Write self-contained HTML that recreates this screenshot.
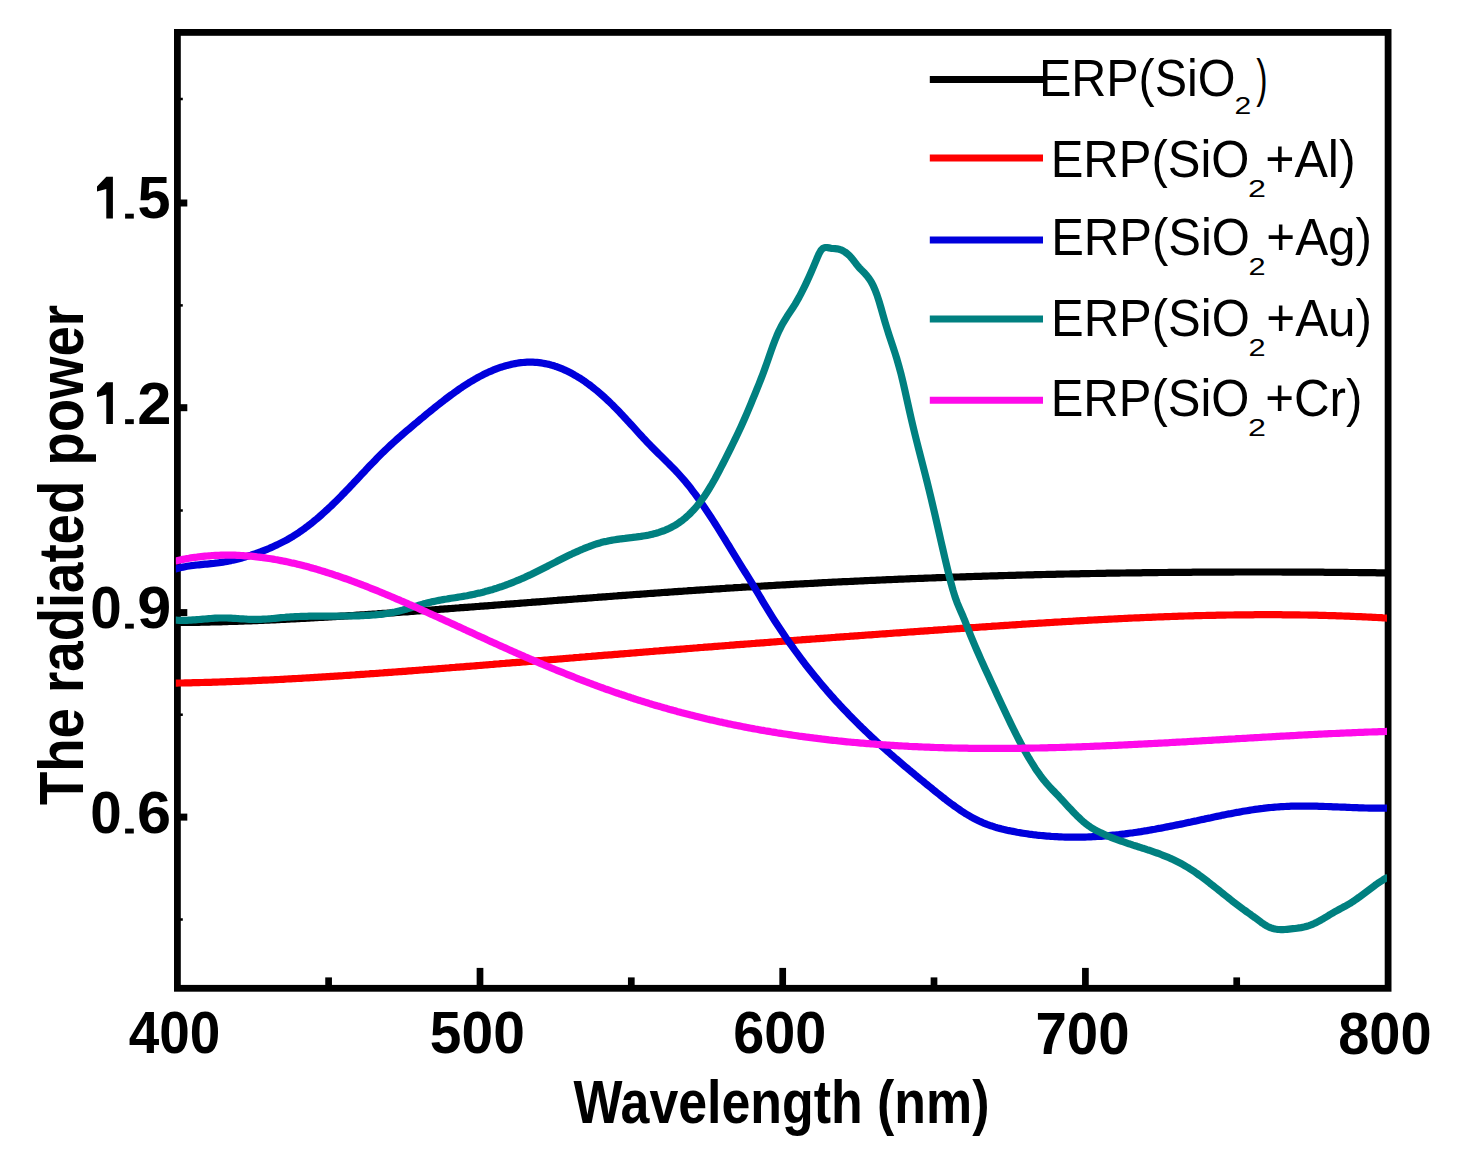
<!DOCTYPE html>
<html><head><meta charset="utf-8"><title>Radiated power vs wavelength</title>
<style>html,body{margin:0;padding:0;background:#fff;}svg{display:block;}</style></head>
<body><svg width="1457" height="1161" viewBox="0 0 1457 1161">
<rect width="1457" height="1161" fill="#fff"/>
<rect x="177.40" y="32.40" width="1210.70" height="955.90" fill="none" stroke="#000" stroke-width="6.8"/>
<rect x="476.65" y="967.90" width="6.7" height="18" fill="#000"/>
<rect x="779.35" y="967.90" width="6.7" height="18" fill="#000"/>
<rect x="1082.05" y="967.90" width="6.7" height="18" fill="#000"/>
<rect x="325.25" y="977.40" width="6.7" height="8.5" fill="#000"/>
<rect x="627.95" y="977.40" width="6.7" height="8.5" fill="#000"/>
<rect x="930.65" y="977.40" width="6.7" height="8.5" fill="#000"/>
<rect x="1233.35" y="977.40" width="6.7" height="8.5" fill="#000"/>
<rect x="179.80" y="199.50" width="7.5" height="7.0" fill="#000"/>
<rect x="179.80" y="404.20" width="7.5" height="7.0" fill="#000"/>
<rect x="179.80" y="609.10" width="7.5" height="7.0" fill="#000"/>
<rect x="179.80" y="813.60" width="7.5" height="7.0" fill="#000"/>
<rect x="179.80" y="97.75" width="3.0" height="2.5" fill="#000"/>
<rect x="179.80" y="304.15" width="3.0" height="2.5" fill="#000"/>
<rect x="179.80" y="509.25" width="3.0" height="2.5" fill="#000"/>
<rect x="179.80" y="713.45" width="3.0" height="2.5" fill="#000"/>
<rect x="179.80" y="918.25" width="3.0" height="2.5" fill="#000"/>
<defs><clipPath id="pc"><rect x="175.8" y="36" width="1211.2" height="949"/></clipPath></defs>
<g clip-path="url(#pc)" fill="none" stroke-width="7.2" stroke-linejoin="round" stroke-linecap="butt">
<path d="M174.8,622.6 L177.0,622.6 L179.0,622.5 L181.0,622.5 L183.0,622.5 L185.0,622.5 L187.0,622.5 L189.0,622.4 L191.0,622.4 L193.0,622.4 L195.0,622.3 L197.0,622.3 L199.0,622.3 L201.0,622.2 L203.0,622.2 L205.0,622.1 L207.0,622.1 L209.0,622.1 L211.0,622.0 L213.0,622.0 L215.0,621.9 L217.0,621.9 L219.0,621.8 L221.0,621.8 L223.0,621.7 L225.0,621.6 L227.0,621.6 L229.0,621.5 L231.0,621.5 L233.0,621.4 L235.0,621.3 L237.0,621.3 L239.0,621.2 L241.0,621.1 L243.0,621.1 L245.0,621.0 L247.0,620.9 L249.0,620.9 L251.0,620.8 L253.0,620.7 L255.0,620.6 L257.0,620.6 L259.0,620.5 L261.0,620.4 L263.0,620.3 L265.0,620.2 L267.0,620.1 L269.0,620.1 L271.0,620.0 L273.0,619.9 L275.0,619.8 L277.0,619.7 L279.0,619.6 L281.0,619.5 L283.0,619.4 L285.0,619.3 L287.0,619.2 L289.0,619.1 L291.0,619.0 L293.0,618.9 L295.0,618.8 L297.0,618.7 L299.0,618.6 L301.0,618.5 L303.0,618.4 L305.0,618.3 L307.0,618.2 L309.0,618.1 L311.0,618.0 L313.0,617.9 L315.0,617.7 L317.0,617.6 L319.0,617.5 L321.0,617.4 L323.0,617.3 L325.0,617.2 L327.0,617.1 L329.0,616.9 L331.0,616.8 L333.0,616.7 L335.0,616.6 L337.0,616.5 L339.0,616.3 L341.0,616.2 L343.0,616.1 L345.0,616.0 L347.0,615.8 L349.0,615.7 L351.0,615.6 L353.0,615.5 L355.0,615.3 L357.0,615.2 L359.0,615.1 L361.0,614.9 L363.0,614.8 L365.0,614.7 L367.0,614.5 L369.0,614.4 L371.0,614.3 L373.0,614.1 L375.0,614.0 L377.0,613.9 L379.0,613.7 L381.0,613.6 L383.0,613.4 L385.0,613.3 L387.0,613.2 L389.0,613.0 L391.0,612.9 L393.0,612.8 L395.0,612.6 L397.0,612.5 L399.0,612.3 L401.0,612.2 L403.0,612.0 L405.0,611.9 L407.0,611.8 L409.0,611.6 L411.0,611.5 L413.0,611.3 L415.0,611.2 L417.0,611.0 L419.0,610.9 L421.0,610.7 L423.0,610.6 L425.0,610.4 L427.0,610.3 L429.0,610.1 L431.0,610.0 L433.0,609.8 L435.0,609.7 L437.0,609.5 L439.0,609.4 L441.0,609.2 L443.0,609.1 L445.0,608.9 L447.0,608.8 L449.0,608.6 L451.0,608.5 L453.0,608.3 L455.0,608.2 L457.0,608.0 L459.0,607.9 L461.0,607.7 L463.0,607.6 L465.0,607.4 L467.0,607.3 L469.0,607.1 L471.0,607.0 L473.0,606.8 L475.0,606.7 L477.0,606.5 L479.0,606.4 L481.0,606.2 L483.0,606.1 L485.0,605.9 L487.0,605.8 L489.0,605.6 L491.0,605.5 L493.0,605.3 L495.0,605.1 L497.0,605.0 L499.0,604.8 L501.0,604.7 L503.0,604.5 L505.0,604.4 L507.0,604.2 L509.0,604.1 L511.0,603.9 L513.0,603.8 L515.0,603.6 L517.0,603.5 L519.0,603.3 L521.0,603.1 L523.0,603.0 L525.0,602.8 L527.0,602.7 L529.0,602.5 L531.0,602.4 L533.0,602.2 L535.0,602.1 L537.0,601.9 L539.0,601.8 L541.0,601.6 L543.0,601.5 L545.0,601.3 L547.0,601.2 L549.0,601.0 L551.0,600.8 L553.0,600.7 L555.0,600.5 L557.0,600.4 L559.0,600.2 L561.0,600.1 L563.0,599.9 L565.0,599.8 L567.0,599.6 L569.0,599.5 L571.0,599.3 L573.0,599.2 L575.0,599.0 L577.0,598.9 L579.0,598.7 L581.0,598.6 L583.0,598.4 L585.0,598.3 L587.0,598.1 L589.0,598.0 L591.0,597.8 L593.0,597.7 L595.0,597.5 L597.0,597.4 L599.0,597.2 L601.0,597.1 L603.0,596.9 L605.0,596.8 L607.0,596.6 L609.0,596.5 L611.0,596.3 L613.0,596.2 L615.0,596.0 L617.0,595.9 L619.0,595.7 L621.0,595.6 L623.0,595.4 L625.0,595.3 L627.0,595.1 L629.0,595.0 L631.0,594.8 L633.0,594.7 L635.0,594.5 L637.0,594.4 L639.0,594.3 L641.0,594.1 L643.0,594.0 L645.0,593.8 L647.0,593.7 L649.0,593.5 L651.0,593.4 L653.0,593.3 L655.0,593.1 L657.0,593.0 L659.0,592.8 L661.0,592.7 L663.0,592.5 L665.0,592.4 L667.0,592.3 L669.0,592.1 L671.0,592.0 L673.0,591.8 L675.0,591.7 L677.0,591.6 L679.0,591.4 L681.0,591.3 L683.0,591.2 L685.0,591.0 L687.0,590.9 L689.0,590.7 L691.0,590.6 L693.0,590.5 L695.0,590.3 L697.0,590.2 L699.0,590.1 L701.0,589.9 L703.0,589.8 L705.0,589.7 L707.0,589.5 L709.0,589.4 L711.0,589.3 L713.0,589.1 L715.0,589.0 L717.0,588.9 L719.0,588.8 L721.0,588.6 L723.0,588.5 L725.0,588.4 L727.0,588.2 L729.0,588.1 L731.0,588.0 L733.0,587.9 L735.0,587.7 L737.0,587.6 L739.0,587.5 L741.0,587.4 L743.0,587.2 L745.0,587.1 L747.0,587.0 L749.0,586.9 L751.0,586.8 L753.0,586.6 L755.0,586.5 L757.0,586.4 L759.0,586.3 L761.0,586.2 L763.0,586.0 L765.0,585.9 L767.0,585.8 L769.0,585.7 L771.0,585.6 L773.0,585.5 L775.0,585.3 L777.0,585.2 L779.0,585.1 L781.0,585.0 L783.0,584.9 L785.0,584.8 L787.0,584.7 L789.0,584.6 L791.0,584.4 L793.0,584.3 L795.0,584.2 L797.0,584.1 L799.0,584.0 L801.0,583.9 L803.0,583.8 L805.0,583.7 L807.0,583.6 L809.0,583.5 L811.0,583.4 L813.0,583.3 L815.0,583.2 L817.0,583.1 L819.0,582.9 L821.0,582.8 L823.0,582.7 L825.0,582.6 L827.0,582.5 L829.0,582.4 L831.0,582.3 L833.0,582.2 L835.0,582.1 L837.0,582.0 L839.0,581.9 L841.0,581.8 L843.0,581.7 L845.0,581.7 L847.0,581.6 L849.0,581.5 L851.0,581.4 L853.0,581.3 L855.0,581.2 L857.0,581.1 L859.0,581.0 L861.0,580.9 L863.0,580.8 L865.0,580.7 L867.0,580.6 L869.0,580.5 L871.0,580.4 L873.0,580.4 L875.0,580.3 L877.0,580.2 L879.0,580.1 L881.0,580.0 L883.0,579.9 L885.0,579.8 L887.0,579.7 L889.0,579.7 L891.0,579.6 L893.0,579.5 L895.0,579.4 L897.0,579.3 L899.0,579.2 L901.0,579.2 L903.0,579.1 L905.0,579.0 L907.0,578.9 L909.0,578.8 L911.0,578.7 L913.0,578.7 L915.0,578.6 L917.0,578.5 L919.0,578.4 L921.0,578.4 L923.0,578.3 L925.0,578.2 L927.0,578.1 L929.0,578.0 L931.0,578.0 L933.0,577.9 L935.0,577.8 L937.0,577.7 L939.0,577.7 L941.0,577.6 L943.0,577.5 L945.0,577.5 L947.0,577.4 L949.0,577.3 L951.0,577.2 L953.0,577.2 L955.0,577.1 L957.0,577.0 L959.0,577.0 L961.0,576.9 L963.0,576.8 L965.0,576.8 L967.0,576.7 L969.0,576.6 L971.0,576.6 L973.0,576.5 L975.0,576.4 L977.0,576.4 L979.0,576.3 L981.0,576.3 L983.0,576.2 L985.0,576.1 L987.0,576.1 L989.0,576.0 L991.0,575.9 L993.0,575.9 L995.0,575.8 L997.0,575.8 L999.0,575.7 L1001.0,575.7 L1003.0,575.6 L1005.0,575.5 L1007.0,575.5 L1009.0,575.4 L1011.0,575.4 L1013.0,575.3 L1015.0,575.3 L1017.0,575.2 L1019.0,575.2 L1021.0,575.1 L1023.0,575.0 L1025.0,575.0 L1027.0,574.9 L1029.0,574.9 L1031.0,574.8 L1033.0,574.8 L1035.0,574.7 L1037.0,574.7 L1039.0,574.6 L1041.0,574.6 L1043.0,574.5 L1045.0,574.5 L1047.0,574.4 L1049.0,574.4 L1051.0,574.4 L1053.0,574.3 L1055.0,574.3 L1057.0,574.2 L1059.0,574.2 L1061.0,574.1 L1063.0,574.1 L1065.0,574.0 L1067.0,574.0 L1069.0,574.0 L1071.0,573.9 L1073.0,573.9 L1075.0,573.8 L1077.0,573.8 L1079.0,573.8 L1081.0,573.7 L1083.0,573.7 L1085.0,573.6 L1087.0,573.6 L1089.0,573.6 L1091.0,573.5 L1093.0,573.5 L1095.0,573.5 L1097.0,573.4 L1099.0,573.4 L1101.0,573.3 L1103.0,573.3 L1105.0,573.3 L1107.0,573.2 L1109.0,573.2 L1111.0,573.2 L1113.0,573.2 L1115.0,573.1 L1117.0,573.1 L1119.0,573.1 L1121.0,573.0 L1123.0,573.0 L1125.0,573.0 L1127.0,572.9 L1129.0,572.9 L1131.0,572.9 L1133.0,572.9 L1135.0,572.8 L1137.0,572.8 L1139.0,572.8 L1141.0,572.8 L1143.0,572.7 L1145.0,572.7 L1147.0,572.7 L1149.0,572.7 L1151.0,572.6 L1153.0,572.6 L1155.0,572.6 L1157.0,572.6 L1159.0,572.5 L1161.0,572.5 L1163.0,572.5 L1165.0,572.5 L1167.0,572.5 L1169.0,572.4 L1171.0,572.4 L1173.0,572.4 L1175.0,572.4 L1177.0,572.4 L1179.0,572.3 L1181.0,572.3 L1183.0,572.3 L1185.0,572.3 L1187.0,572.3 L1189.0,572.3 L1191.0,572.3 L1193.0,572.2 L1195.0,572.2 L1197.0,572.2 L1199.0,572.2 L1201.0,572.2 L1203.0,572.2 L1205.0,572.2 L1207.0,572.2 L1209.0,572.1 L1211.0,572.1 L1213.0,572.1 L1215.0,572.1 L1217.0,572.1 L1219.0,572.1 L1221.0,572.1 L1223.0,572.1 L1225.0,572.1 L1227.0,572.1 L1229.0,572.1 L1231.0,572.1 L1233.0,572.1 L1235.0,572.0 L1237.0,572.0 L1239.0,572.0 L1241.0,572.0 L1243.0,572.0 L1245.0,572.0 L1247.0,572.0 L1249.0,572.0 L1251.0,572.0 L1253.0,572.0 L1255.0,572.0 L1257.0,572.0 L1259.0,572.0 L1261.0,572.0 L1263.0,572.0 L1265.0,572.0 L1267.0,572.0 L1269.0,572.0 L1271.0,572.0 L1273.0,572.0 L1275.0,572.0 L1277.0,572.0 L1279.0,572.0 L1281.0,572.0 L1283.0,572.1 L1285.0,572.1 L1287.0,572.1 L1289.0,572.1 L1291.0,572.1 L1293.0,572.1 L1295.0,572.1 L1297.0,572.1 L1299.0,572.1 L1301.0,572.1 L1303.0,572.1 L1305.0,572.1 L1307.0,572.1 L1309.0,572.2 L1311.0,572.2 L1313.0,572.2 L1315.0,572.2 L1317.0,572.2 L1319.0,572.2 L1321.0,572.2 L1323.0,572.2 L1325.0,572.3 L1327.0,572.3 L1329.0,572.3 L1331.0,572.3 L1333.0,572.3 L1335.0,572.3 L1337.0,572.4 L1339.0,572.4 L1341.0,572.4 L1343.0,572.4 L1345.0,572.4 L1347.0,572.4 L1349.0,572.5 L1351.0,572.5 L1353.0,572.5 L1355.0,572.5 L1357.0,572.5 L1359.0,572.6 L1361.0,572.6 L1363.0,572.6 L1365.0,572.6 L1367.0,572.6 L1369.0,572.7 L1371.0,572.7 L1373.0,572.7 L1375.0,572.7 L1377.0,572.8 L1379.0,572.8 L1381.0,572.8 L1383.0,572.8 L1385.0,572.9 L1387.0,572.9 L1388.0,572.9" stroke="#000000"/>
<path d="M174.8,683.1 L177.0,683.1 L179.0,683.0 L181.0,683.0 L183.0,683.0 L185.0,682.9 L187.0,682.9 L189.0,682.8 L191.0,682.8 L193.0,682.7 L195.0,682.7 L197.0,682.6 L199.0,682.6 L201.0,682.5 L203.0,682.5 L205.0,682.4 L207.0,682.4 L209.0,682.3 L211.0,682.3 L213.0,682.2 L215.0,682.1 L217.0,682.1 L219.0,682.0 L221.0,681.9 L223.0,681.9 L225.0,681.8 L227.0,681.7 L229.0,681.7 L231.0,681.6 L233.0,681.5 L235.0,681.4 L237.0,681.4 L239.0,681.3 L241.0,681.2 L243.0,681.1 L245.0,681.0 L247.0,681.0 L249.0,680.9 L251.0,680.8 L253.0,680.7 L255.0,680.6 L257.0,680.5 L259.0,680.4 L261.0,680.3 L263.0,680.2 L265.0,680.2 L267.0,680.1 L269.0,680.0 L271.0,679.9 L273.0,679.8 L275.0,679.7 L277.0,679.6 L279.0,679.5 L281.0,679.4 L283.0,679.3 L285.0,679.1 L287.0,679.0 L289.0,678.9 L291.0,678.8 L293.0,678.7 L295.0,678.6 L297.0,678.5 L299.0,678.4 L301.0,678.3 L303.0,678.1 L305.0,678.0 L307.0,677.9 L309.0,677.8 L311.0,677.7 L313.0,677.6 L315.0,677.4 L317.0,677.3 L319.0,677.2 L321.0,677.1 L323.0,676.9 L325.0,676.8 L327.0,676.7 L329.0,676.6 L331.0,676.4 L333.0,676.3 L335.0,676.2 L337.0,676.1 L339.0,675.9 L341.0,675.8 L343.0,675.7 L345.0,675.5 L347.0,675.4 L349.0,675.3 L351.0,675.1 L353.0,675.0 L355.0,674.9 L357.0,674.7 L359.0,674.6 L361.0,674.4 L363.0,674.3 L365.0,674.2 L367.0,674.0 L369.0,673.9 L371.0,673.7 L373.0,673.6 L375.0,673.5 L377.0,673.3 L379.0,673.2 L381.0,673.0 L383.0,672.9 L385.0,672.7 L387.0,672.6 L389.0,672.4 L391.0,672.3 L393.0,672.1 L395.0,672.0 L397.0,671.8 L399.0,671.7 L401.0,671.6 L403.0,671.4 L405.0,671.3 L407.0,671.1 L409.0,670.9 L411.0,670.8 L413.0,670.6 L415.0,670.5 L417.0,670.3 L419.0,670.2 L421.0,670.0 L423.0,669.9 L425.0,669.7 L427.0,669.6 L429.0,669.4 L431.0,669.3 L433.0,669.1 L435.0,669.0 L437.0,668.8 L439.0,668.6 L441.0,668.5 L443.0,668.3 L445.0,668.2 L447.0,668.0 L449.0,667.9 L451.0,667.7 L453.0,667.5 L455.0,667.4 L457.0,667.2 L459.0,667.1 L461.0,666.9 L463.0,666.8 L465.0,666.6 L467.0,666.4 L469.0,666.3 L471.0,666.1 L473.0,666.0 L475.0,665.8 L477.0,665.6 L479.0,665.5 L481.0,665.3 L483.0,665.2 L485.0,665.0 L487.0,664.8 L489.0,664.7 L491.0,664.5 L493.0,664.4 L495.0,664.2 L497.0,664.0 L499.0,663.9 L501.0,663.7 L503.0,663.5 L505.0,663.4 L507.0,663.2 L509.0,663.1 L511.0,662.9 L513.0,662.7 L515.0,662.6 L517.0,662.4 L519.0,662.3 L521.0,662.1 L523.0,661.9 L525.0,661.8 L527.0,661.6 L529.0,661.4 L531.0,661.3 L533.0,661.1 L535.0,661.0 L537.0,660.8 L539.0,660.6 L541.0,660.5 L543.0,660.3 L545.0,660.1 L547.0,660.0 L549.0,659.8 L551.0,659.6 L553.0,659.5 L555.0,659.3 L557.0,659.2 L559.0,659.0 L561.0,658.8 L563.0,658.7 L565.0,658.5 L567.0,658.3 L569.0,658.2 L571.0,658.0 L573.0,657.9 L575.0,657.7 L577.0,657.5 L579.0,657.4 L581.0,657.2 L583.0,657.0 L585.0,656.9 L587.0,656.7 L589.0,656.5 L591.0,656.4 L593.0,656.2 L595.0,656.1 L597.0,655.9 L599.0,655.7 L601.0,655.6 L603.0,655.4 L605.0,655.2 L607.0,655.1 L609.0,654.9 L611.0,654.8 L613.0,654.6 L615.0,654.4 L617.0,654.3 L619.0,654.1 L621.0,653.9 L623.0,653.8 L625.0,653.6 L627.0,653.5 L629.0,653.3 L631.0,653.1 L633.0,653.0 L635.0,652.8 L637.0,652.6 L639.0,652.5 L641.0,652.3 L643.0,652.2 L645.0,652.0 L647.0,651.8 L649.0,651.7 L651.0,651.5 L653.0,651.4 L655.0,651.2 L657.0,651.0 L659.0,650.9 L661.0,650.7 L663.0,650.6 L665.0,650.4 L667.0,650.2 L669.0,650.1 L671.0,649.9 L673.0,649.8 L675.0,649.6 L677.0,649.4 L679.0,649.3 L681.0,649.1 L683.0,649.0 L685.0,648.8 L687.0,648.6 L689.0,648.5 L691.0,648.3 L693.0,648.2 L695.0,648.0 L697.0,647.9 L699.0,647.7 L701.0,647.5 L703.0,647.4 L705.0,647.2 L707.0,647.1 L709.0,646.9 L711.0,646.8 L713.0,646.6 L715.0,646.4 L717.0,646.3 L719.0,646.1 L721.0,646.0 L723.0,645.8 L725.0,645.7 L727.0,645.5 L729.0,645.4 L731.0,645.2 L733.0,645.1 L735.0,644.9 L737.0,644.7 L739.0,644.6 L741.0,644.4 L743.0,644.3 L745.0,644.1 L747.0,644.0 L749.0,643.8 L751.0,643.7 L753.0,643.5 L755.0,643.4 L757.0,643.2 L759.0,643.1 L761.0,642.9 L763.0,642.8 L765.0,642.6 L767.0,642.5 L769.0,642.3 L771.0,642.1 L773.0,642.0 L775.0,641.8 L777.0,641.7 L779.0,641.5 L781.0,641.4 L783.0,641.2 L785.0,641.1 L787.0,640.9 L789.0,640.8 L791.0,640.6 L793.0,640.5 L795.0,640.3 L797.0,640.2 L799.0,640.0 L801.0,639.9 L803.0,639.7 L805.0,639.6 L807.0,639.4 L809.0,639.3 L811.0,639.1 L813.0,639.0 L815.0,638.9 L817.0,638.7 L819.0,638.6 L821.0,638.4 L823.0,638.3 L825.0,638.1 L827.0,638.0 L829.0,637.8 L831.0,637.7 L833.0,637.5 L835.0,637.4 L837.0,637.2 L839.0,637.1 L841.0,636.9 L843.0,636.8 L845.0,636.6 L847.0,636.5 L849.0,636.4 L851.0,636.2 L853.0,636.1 L855.0,635.9 L857.0,635.8 L859.0,635.6 L861.0,635.5 L863.0,635.3 L865.0,635.2 L867.0,635.0 L869.0,634.9 L871.0,634.8 L873.0,634.6 L875.0,634.5 L877.0,634.3 L879.0,634.2 L881.0,634.0 L883.0,633.9 L885.0,633.8 L887.0,633.6 L889.0,633.5 L891.0,633.3 L893.0,633.2 L895.0,633.0 L897.0,632.9 L899.0,632.8 L901.0,632.6 L903.0,632.5 L905.0,632.3 L907.0,632.2 L909.0,632.0 L911.0,631.9 L913.0,631.8 L915.0,631.6 L917.0,631.5 L919.0,631.3 L921.0,631.2 L923.0,631.1 L925.0,630.9 L927.0,630.8 L929.0,630.6 L931.0,630.5 L933.0,630.4 L935.0,630.2 L937.0,630.1 L939.0,629.9 L941.0,629.8 L943.0,629.7 L945.0,629.5 L947.0,629.4 L949.0,629.2 L951.0,629.1 L953.0,629.0 L955.0,628.8 L957.0,628.7 L959.0,628.6 L961.0,628.4 L963.0,628.3 L965.0,628.1 L967.0,628.0 L969.0,627.9 L971.0,627.7 L973.0,627.6 L975.0,627.5 L977.0,627.3 L979.0,627.2 L981.0,627.0 L983.0,626.9 L985.0,626.8 L987.0,626.6 L989.0,626.5 L991.0,626.4 L993.0,626.2 L995.0,626.1 L997.0,626.0 L999.0,625.8 L1001.0,625.7 L1003.0,625.6 L1005.0,625.4 L1007.0,625.3 L1009.0,625.2 L1011.0,625.0 L1013.0,624.9 L1015.0,624.8 L1017.0,624.6 L1019.0,624.5 L1021.0,624.4 L1023.0,624.2 L1025.0,624.1 L1027.0,624.0 L1029.0,623.8 L1031.0,623.7 L1033.0,623.6 L1035.0,623.5 L1037.0,623.3 L1039.0,623.2 L1041.0,623.1 L1043.0,623.0 L1045.0,622.8 L1047.0,622.7 L1049.0,622.6 L1051.0,622.5 L1053.0,622.3 L1055.0,622.2 L1057.0,622.1 L1059.0,622.0 L1061.0,621.9 L1063.0,621.7 L1065.0,621.6 L1067.0,621.5 L1069.0,621.4 L1071.0,621.3 L1073.0,621.2 L1075.0,621.0 L1077.0,620.9 L1079.0,620.8 L1081.0,620.7 L1083.0,620.6 L1085.0,620.5 L1087.0,620.4 L1089.0,620.2 L1091.0,620.1 L1093.0,620.0 L1095.0,619.9 L1097.0,619.8 L1099.0,619.7 L1101.0,619.6 L1103.0,619.5 L1105.0,619.4 L1107.0,619.3 L1109.0,619.2 L1111.0,619.1 L1113.0,619.0 L1115.0,618.9 L1117.0,618.8 L1119.0,618.7 L1121.0,618.6 L1123.0,618.5 L1125.0,618.4 L1127.0,618.3 L1129.0,618.2 L1131.0,618.1 L1133.0,618.0 L1135.0,617.9 L1137.0,617.8 L1139.0,617.8 L1141.0,617.7 L1143.0,617.6 L1145.0,617.5 L1147.0,617.4 L1149.0,617.3 L1151.0,617.3 L1153.0,617.2 L1155.0,617.1 L1157.0,617.0 L1159.0,616.9 L1161.0,616.9 L1163.0,616.8 L1165.0,616.7 L1167.0,616.6 L1169.0,616.6 L1171.0,616.5 L1173.0,616.4 L1175.0,616.4 L1177.0,616.3 L1179.0,616.2 L1181.0,616.2 L1183.0,616.1 L1185.0,616.0 L1187.0,616.0 L1189.0,615.9 L1191.0,615.9 L1193.0,615.8 L1195.0,615.7 L1197.0,615.7 L1199.0,615.6 L1201.0,615.6 L1203.0,615.5 L1205.0,615.5 L1207.0,615.4 L1209.0,615.4 L1211.0,615.3 L1213.0,615.3 L1215.0,615.3 L1217.0,615.2 L1219.0,615.2 L1221.0,615.1 L1223.0,615.1 L1225.0,615.1 L1227.0,615.0 L1229.0,615.0 L1231.0,615.0 L1233.0,615.0 L1235.0,614.9 L1237.0,614.9 L1239.0,614.9 L1241.0,614.9 L1243.0,614.8 L1245.0,614.8 L1247.0,614.8 L1249.0,614.8 L1251.0,614.8 L1253.0,614.8 L1255.0,614.7 L1257.0,614.7 L1259.0,614.7 L1261.0,614.7 L1263.0,614.7 L1265.0,614.7 L1267.0,614.7 L1269.0,614.7 L1271.0,614.7 L1273.0,614.7 L1275.0,614.7 L1277.0,614.7 L1279.0,614.7 L1281.0,614.7 L1283.0,614.8 L1285.0,614.8 L1287.0,614.8 L1289.0,614.8 L1291.0,614.8 L1293.0,614.8 L1295.0,614.9 L1297.0,614.9 L1299.0,614.9 L1301.0,615.0 L1303.0,615.0 L1305.0,615.0 L1307.0,615.0 L1309.0,615.1 L1311.0,615.1 L1313.0,615.2 L1315.0,615.2 L1317.0,615.2 L1319.0,615.3 L1321.0,615.3 L1323.0,615.4 L1325.0,615.4 L1327.0,615.5 L1329.0,615.6 L1331.0,615.6 L1333.0,615.7 L1335.0,615.7 L1337.0,615.8 L1339.0,615.9 L1341.0,615.9 L1343.0,616.0 L1345.0,616.1 L1347.0,616.2 L1349.0,616.2 L1351.0,616.3 L1353.0,616.4 L1355.0,616.5 L1357.0,616.6 L1359.0,616.6 L1361.0,616.7 L1363.0,616.8 L1365.0,616.9 L1367.0,617.0 L1369.0,617.1 L1371.0,617.2 L1373.0,617.3 L1375.0,617.4 L1377.0,617.5 L1379.0,617.6 L1381.0,617.7 L1383.0,617.9 L1385.0,618.0 L1387.0,618.1 L1388.0,618.2" stroke="#ff0000"/>
<path d="M174.8,569.2 L177.0,568.6 L179.0,568.0 L181.0,567.5 L183.0,567.1 L185.0,566.7 L187.0,566.3 L189.0,566.0 L191.0,565.7 L193.0,565.5 L195.0,565.2 L197.0,565.0 L199.0,564.8 L201.0,564.6 L203.0,564.4 L205.0,564.2 L207.0,564.1 L209.0,563.9 L211.0,563.7 L213.0,563.5 L215.0,563.2 L217.0,563.0 L219.0,562.7 L221.0,562.4 L223.0,562.1 L225.0,561.8 L227.0,561.4 L229.0,561.0 L231.0,560.6 L233.0,560.1 L235.0,559.7 L237.0,559.2 L239.0,558.7 L241.0,558.2 L243.0,557.6 L245.0,557.0 L247.0,556.4 L249.0,555.8 L251.0,555.2 L253.0,554.5 L255.0,553.8 L257.0,553.1 L259.0,552.4 L261.0,551.7 L263.0,550.9 L265.0,550.1 L267.0,549.3 L269.0,548.5 L271.0,547.6 L273.0,546.7 L275.0,545.8 L277.0,544.9 L279.0,543.9 L281.0,542.9 L283.0,541.9 L285.0,540.9 L287.0,539.8 L289.0,538.6 L291.0,537.5 L293.0,536.3 L295.0,535.0 L297.0,533.7 L299.0,532.4 L301.0,531.0 L303.0,529.6 L305.0,528.2 L307.0,526.7 L309.0,525.1 L311.0,523.6 L313.0,522.0 L315.0,520.3 L317.0,518.7 L319.0,517.0 L321.0,515.2 L323.0,513.4 L325.0,511.6 L327.0,509.8 L329.0,507.9 L331.0,506.1 L333.0,504.1 L335.0,502.2 L337.0,500.2 L339.0,498.2 L341.0,496.2 L343.0,494.1 L345.0,492.1 L347.0,490.0 L349.0,487.9 L351.0,485.8 L353.0,483.7 L355.0,481.5 L357.0,479.4 L359.0,477.3 L361.0,475.1 L363.0,473.0 L365.0,470.9 L367.0,468.7 L369.0,466.6 L371.0,464.5 L373.0,462.5 L375.0,460.4 L377.0,458.3 L379.0,456.3 L381.0,454.3 L383.0,452.3 L385.0,450.4 L387.0,448.5 L389.0,446.6 L391.0,444.7 L393.0,442.9 L395.0,441.1 L397.0,439.3 L399.0,437.5 L401.0,435.8 L403.0,434.0 L405.0,432.3 L407.0,430.6 L409.0,428.9 L411.0,427.2 L413.0,425.5 L415.0,423.8 L417.0,422.2 L419.0,420.5 L421.0,418.8 L423.0,417.2 L425.0,415.5 L427.0,413.8 L429.0,412.2 L431.0,410.6 L433.0,409.0 L435.0,407.4 L437.0,405.8 L439.0,404.2 L441.0,402.6 L443.0,401.1 L445.0,399.5 L447.0,398.0 L449.0,396.5 L451.0,395.0 L453.0,393.6 L455.0,392.1 L457.0,390.7 L459.0,389.3 L461.0,387.9 L463.0,386.6 L465.0,385.3 L467.0,384.0 L469.0,382.7 L471.0,381.5 L473.0,380.3 L475.0,379.2 L477.0,378.0 L479.0,376.9 L481.0,375.9 L483.0,374.8 L485.0,373.8 L487.0,372.9 L489.0,371.9 L491.0,371.1 L493.0,370.2 L495.0,369.4 L497.0,368.6 L499.0,367.9 L501.0,367.2 L503.0,366.6 L505.0,366.0 L507.0,365.4 L509.0,364.9 L511.0,364.4 L513.0,364.0 L515.0,363.6 L517.0,363.2 L519.0,362.9 L521.0,362.7 L523.0,362.5 L525.0,362.3 L527.0,362.2 L529.0,362.2 L531.0,362.2 L533.0,362.2 L535.0,362.3 L537.0,362.4 L539.0,362.6 L541.0,362.9 L543.0,363.2 L545.0,363.6 L547.0,364.0 L549.0,364.4 L551.0,365.0 L553.0,365.5 L555.0,366.2 L557.0,366.8 L559.0,367.6 L561.0,368.4 L563.0,369.2 L565.0,370.1 L567.0,371.0 L569.0,372.0 L571.0,373.0 L573.0,374.1 L575.0,375.3 L577.0,376.4 L579.0,377.7 L581.0,378.9 L583.0,380.3 L585.0,381.6 L587.0,383.1 L589.0,384.5 L591.0,386.0 L593.0,387.6 L595.0,389.2 L597.0,390.8 L599.0,392.5 L601.0,394.2 L603.0,396.0 L605.0,397.8 L607.0,399.7 L609.0,401.5 L611.0,403.5 L613.0,405.4 L615.0,407.5 L617.0,409.5 L619.0,411.6 L621.0,413.7 L623.0,415.8 L625.0,418.0 L627.0,420.2 L629.0,422.3 L631.0,424.5 L633.0,426.7 L635.0,428.9 L637.0,431.1 L639.0,433.3 L641.0,435.5 L643.0,437.7 L645.0,439.8 L647.0,441.9 L649.0,444.0 L651.0,446.1 L653.0,448.1 L655.0,450.1 L657.0,452.1 L659.0,454.1 L661.0,456.0 L663.0,458.0 L665.0,460.0 L667.0,462.0 L669.0,463.9 L671.0,466.0 L673.0,468.0 L675.0,470.1 L677.0,472.2 L679.0,474.4 L681.0,476.6 L683.0,478.9 L685.0,481.2 L687.0,483.6 L689.0,486.1 L691.0,488.6 L693.0,491.3 L695.0,493.9 L697.0,496.7 L699.0,499.5 L701.0,502.3 L703.0,505.2 L705.0,508.2 L707.0,511.2 L709.0,514.2 L711.0,517.3 L713.0,520.4 L715.0,523.5 L717.0,526.7 L719.0,529.9 L721.0,533.1 L723.0,536.3 L725.0,539.5 L727.0,542.8 L729.0,546.0 L731.0,549.3 L733.0,552.6 L735.0,555.8 L737.0,559.1 L739.0,562.3 L741.0,565.6 L743.0,568.8 L745.0,572.0 L747.0,575.2 L749.0,578.4 L751.0,581.7 L753.0,584.9 L755.0,588.3 L757.0,591.6 L759.0,595.0 L761.0,598.4 L763.0,601.8 L765.0,605.1 L767.0,608.4 L769.0,611.7 L771.0,614.9 L773.0,618.1 L775.0,621.2 L777.0,624.3 L779.0,627.3 L781.0,630.3 L783.0,633.3 L785.0,636.3 L787.0,639.2 L789.0,642.1 L791.0,644.9 L793.0,647.7 L795.0,650.5 L797.0,653.2 L799.0,655.9 L801.0,658.6 L803.0,661.2 L805.0,663.9 L807.0,666.4 L809.0,669.0 L811.0,671.5 L813.0,674.0 L815.0,676.5 L817.0,678.9 L819.0,681.3 L821.0,683.7 L823.0,686.1 L825.0,688.4 L827.0,690.8 L829.0,693.0 L831.0,695.3 L833.0,697.5 L835.0,699.8 L837.0,702.0 L839.0,704.1 L841.0,706.3 L843.0,708.4 L845.0,710.5 L847.0,712.6 L849.0,714.7 L851.0,716.7 L853.0,718.8 L855.0,720.8 L857.0,722.8 L859.0,724.8 L861.0,726.7 L863.0,728.7 L865.0,730.6 L867.0,732.5 L869.0,734.4 L871.0,736.3 L873.0,738.2 L875.0,740.0 L877.0,741.9 L879.0,743.7 L881.0,745.5 L883.0,747.3 L885.0,749.1 L887.0,750.9 L889.0,752.6 L891.0,754.4 L893.0,756.1 L895.0,757.9 L897.0,759.6 L899.0,761.3 L901.0,763.0 L903.0,764.7 L905.0,766.4 L907.0,768.1 L909.0,769.8 L911.0,771.4 L913.0,773.1 L915.0,774.8 L917.0,776.4 L919.0,778.1 L921.0,779.7 L923.0,781.3 L925.0,783.0 L927.0,784.6 L929.0,786.2 L931.0,787.8 L933.0,789.5 L935.0,791.1 L937.0,792.7 L939.0,794.3 L941.0,795.9 L943.0,797.5 L945.0,799.0 L947.0,800.6 L949.0,802.1 L951.0,803.6 L953.0,805.0 L955.0,806.5 L957.0,807.9 L959.0,809.3 L961.0,810.7 L963.0,812.0 L965.0,813.3 L967.0,814.5 L969.0,815.7 L971.0,816.8 L973.0,818.0 L975.0,819.0 L977.0,820.0 L979.0,821.0 L981.0,821.9 L983.0,822.8 L985.0,823.6 L987.0,824.4 L989.0,825.1 L991.0,825.8 L993.0,826.4 L995.0,827.1 L997.0,827.7 L999.0,828.2 L1001.0,828.8 L1003.0,829.3 L1005.0,829.7 L1007.0,830.2 L1009.0,830.6 L1011.0,831.0 L1013.0,831.4 L1015.0,831.8 L1017.0,832.2 L1019.0,832.5 L1021.0,832.9 L1023.0,833.2 L1025.0,833.5 L1027.0,833.8 L1029.0,834.1 L1031.0,834.3 L1033.0,834.6 L1035.0,834.8 L1037.0,835.1 L1039.0,835.3 L1041.0,835.5 L1043.0,835.7 L1045.0,835.9 L1047.0,836.1 L1049.0,836.2 L1051.0,836.4 L1053.0,836.5 L1055.0,836.6 L1057.0,836.7 L1059.0,836.8 L1061.0,836.9 L1063.0,837.0 L1065.0,837.1 L1067.0,837.1 L1069.0,837.1 L1071.0,837.2 L1073.0,837.2 L1075.0,837.2 L1077.0,837.2 L1079.0,837.2 L1081.0,837.1 L1083.0,837.1 L1085.0,837.1 L1087.0,837.0 L1089.0,836.9 L1091.0,836.8 L1093.0,836.7 L1095.0,836.6 L1097.0,836.5 L1099.0,836.4 L1101.0,836.3 L1103.0,836.1 L1105.0,836.0 L1107.0,835.8 L1109.0,835.6 L1111.0,835.4 L1113.0,835.2 L1115.0,835.0 L1117.0,834.8 L1119.0,834.6 L1121.0,834.3 L1123.0,834.1 L1125.0,833.9 L1127.0,833.6 L1129.0,833.3 L1131.0,833.0 L1133.0,832.8 L1135.0,832.5 L1137.0,832.2 L1139.0,831.9 L1141.0,831.6 L1143.0,831.2 L1145.0,830.9 L1147.0,830.6 L1149.0,830.2 L1151.0,829.9 L1153.0,829.5 L1155.0,829.2 L1157.0,828.8 L1159.0,828.4 L1161.0,828.1 L1163.0,827.7 L1165.0,827.3 L1167.0,826.9 L1169.0,826.5 L1171.0,826.1 L1173.0,825.7 L1175.0,825.3 L1177.0,824.9 L1179.0,824.5 L1181.0,824.1 L1183.0,823.7 L1185.0,823.3 L1187.0,822.8 L1189.0,822.4 L1191.0,822.0 L1193.0,821.5 L1195.0,821.1 L1197.0,820.7 L1199.0,820.2 L1201.0,819.8 L1203.0,819.4 L1205.0,818.9 L1207.0,818.5 L1209.0,818.1 L1211.0,817.7 L1213.0,817.2 L1215.0,816.8 L1217.0,816.4 L1219.0,816.0 L1221.0,815.6 L1223.0,815.1 L1225.0,814.7 L1227.0,814.3 L1229.0,813.9 L1231.0,813.6 L1233.0,813.2 L1235.0,812.8 L1237.0,812.4 L1239.0,812.1 L1241.0,811.7 L1243.0,811.3 L1245.0,811.0 L1247.0,810.7 L1249.0,810.4 L1251.0,810.0 L1253.0,809.7 L1255.0,809.4 L1257.0,809.2 L1259.0,808.9 L1261.0,808.6 L1263.0,808.4 L1265.0,808.1 L1267.0,807.9 L1269.0,807.7 L1271.0,807.5 L1273.0,807.3 L1275.0,807.1 L1277.0,807.0 L1279.0,806.8 L1281.0,806.7 L1283.0,806.6 L1285.0,806.5 L1287.0,806.4 L1289.0,806.3 L1291.0,806.2 L1293.0,806.2 L1295.0,806.1 L1297.0,806.1 L1299.0,806.1 L1301.0,806.1 L1303.0,806.1 L1305.0,806.1 L1307.0,806.1 L1309.0,806.1 L1311.0,806.1 L1313.0,806.1 L1315.0,806.2 L1317.0,806.2 L1319.0,806.3 L1321.0,806.3 L1323.0,806.4 L1325.0,806.5 L1327.0,806.5 L1329.0,806.6 L1331.0,806.7 L1333.0,806.8 L1335.0,806.8 L1337.0,806.9 L1339.0,807.0 L1341.0,807.1 L1343.0,807.2 L1345.0,807.2 L1347.0,807.3 L1349.0,807.4 L1351.0,807.5 L1353.0,807.6 L1355.0,807.6 L1357.0,807.7 L1359.0,807.8 L1361.0,807.8 L1363.0,807.9 L1365.0,808.0 L1367.0,808.0 L1369.0,808.1 L1371.0,808.1 L1373.0,808.1 L1375.0,808.2 L1377.0,808.2 L1379.0,808.2 L1381.0,808.2 L1383.0,808.2 L1385.0,808.2 L1387.0,808.2 L1388.0,808.1" stroke="#0000dc"/>
<path d="M174.8,620.0 L177.0,620.2 L179.0,620.3 L181.0,620.3 L183.0,620.3 L185.0,620.3 L187.0,620.3 L189.0,620.2 L191.0,620.1 L193.0,619.9 L195.0,619.8 L197.0,619.6 L199.0,619.5 L201.0,619.3 L203.0,619.1 L205.0,619.0 L207.0,618.8 L209.0,618.6 L211.0,618.5 L213.0,618.3 L215.0,618.2 L217.0,618.1 L219.0,618.0 L221.0,618.0 L223.0,618.0 L225.0,618.0 L227.0,618.0 L229.0,618.1 L231.0,618.2 L233.0,618.3 L235.0,618.4 L237.0,618.5 L239.0,618.7 L241.0,618.8 L243.0,618.9 L245.0,619.0 L247.0,619.2 L249.0,619.3 L251.0,619.3 L253.0,619.4 L255.0,619.4 L257.0,619.4 L259.0,619.4 L261.0,619.3 L263.0,619.2 L265.0,619.1 L267.0,619.0 L269.0,618.8 L271.0,618.7 L273.0,618.5 L275.0,618.3 L277.0,618.1 L279.0,617.9 L281.0,617.7 L283.0,617.5 L285.0,617.4 L287.0,617.2 L289.0,617.1 L291.0,616.9 L293.0,616.8 L295.0,616.7 L297.0,616.6 L299.0,616.5 L301.0,616.4 L303.0,616.4 L305.0,616.3 L307.0,616.3 L309.0,616.2 L311.0,616.2 L313.0,616.2 L315.0,616.1 L317.0,616.1 L319.0,616.1 L321.0,616.1 L323.0,616.1 L325.0,616.1 L327.0,616.1 L329.0,616.1 L331.0,616.1 L333.0,616.1 L335.0,616.1 L337.0,616.1 L339.0,616.1 L341.0,616.0 L343.0,616.0 L345.0,616.0 L347.0,616.0 L349.0,616.0 L351.0,615.9 L353.0,615.9 L355.0,615.9 L357.0,615.8 L359.0,615.8 L361.0,615.7 L363.0,615.6 L365.0,615.5 L367.0,615.4 L369.0,615.3 L371.0,615.2 L373.0,615.0 L375.0,614.9 L377.0,614.7 L379.0,614.5 L381.0,614.3 L383.0,614.1 L385.0,613.8 L387.0,613.5 L389.0,613.2 L391.0,612.8 L393.0,612.4 L395.0,612.0 L397.0,611.5 L399.0,611.1 L401.0,610.5 L403.0,610.0 L405.0,609.4 L407.0,608.9 L409.0,608.3 L411.0,607.7 L413.0,607.1 L415.0,606.5 L417.0,605.9 L419.0,605.3 L421.0,604.7 L423.0,604.1 L425.0,603.6 L427.0,603.0 L429.0,602.5 L431.0,602.1 L433.0,601.6 L435.0,601.2 L437.0,600.8 L439.0,600.4 L441.0,600.0 L443.0,599.6 L445.0,599.3 L447.0,599.0 L449.0,598.6 L451.0,598.3 L453.0,598.0 L455.0,597.7 L457.0,597.4 L459.0,597.0 L461.0,596.7 L463.0,596.4 L465.0,596.0 L467.0,595.7 L469.0,595.3 L471.0,594.9 L473.0,594.5 L475.0,594.1 L477.0,593.6 L479.0,593.1 L481.0,592.7 L483.0,592.2 L485.0,591.6 L487.0,591.1 L489.0,590.5 L491.0,589.9 L493.0,589.4 L495.0,588.7 L497.0,588.1 L499.0,587.4 L501.0,586.8 L503.0,586.1 L505.0,585.4 L507.0,584.6 L509.0,583.9 L511.0,583.1 L513.0,582.3 L515.0,581.5 L517.0,580.7 L519.0,579.9 L521.0,579.0 L523.0,578.2 L525.0,577.3 L527.0,576.3 L529.0,575.4 L531.0,574.5 L533.0,573.5 L535.0,572.5 L537.0,571.5 L539.0,570.5 L541.0,569.5 L543.0,568.5 L545.0,567.5 L547.0,566.5 L549.0,565.4 L551.0,564.4 L553.0,563.4 L555.0,562.4 L557.0,561.3 L559.0,560.3 L561.0,559.3 L563.0,558.3 L565.0,557.3 L567.0,556.3 L569.0,555.3 L571.0,554.4 L573.0,553.4 L575.0,552.5 L577.0,551.6 L579.0,550.7 L581.0,549.8 L583.0,549.0 L585.0,548.1 L587.0,547.3 L589.0,546.6 L591.0,545.8 L593.0,545.1 L595.0,544.4 L597.0,543.8 L599.0,543.2 L601.0,542.6 L603.0,542.1 L605.0,541.6 L607.0,541.2 L609.0,540.7 L611.0,540.4 L613.0,540.0 L615.0,539.7 L617.0,539.4 L619.0,539.1 L621.0,538.8 L623.0,538.6 L625.0,538.4 L627.0,538.1 L629.0,537.9 L631.0,537.7 L633.0,537.4 L635.0,537.2 L637.0,536.9 L639.0,536.6 L641.0,536.4 L643.0,536.0 L645.0,535.7 L647.0,535.4 L649.0,535.0 L651.0,534.5 L653.0,534.1 L655.0,533.6 L657.0,533.0 L659.0,532.4 L661.0,531.7 L663.0,531.0 L665.0,530.3 L667.0,529.4 L669.0,528.5 L671.0,527.5 L673.0,526.4 L675.0,525.3 L677.0,524.1 L679.0,522.7 L681.0,521.3 L683.0,519.8 L685.0,518.2 L687.0,516.4 L689.0,514.6 L691.0,512.6 L693.0,510.5 L695.0,508.3 L697.0,506.0 L699.0,503.5 L701.0,500.9 L703.0,498.1 L705.0,495.3 L707.0,492.2 L709.0,489.0 L711.0,485.7 L713.0,482.2 L715.0,478.7 L717.0,475.0 L719.0,471.2 L721.0,467.4 L723.0,463.5 L725.0,459.6 L727.0,455.6 L729.0,451.6 L731.0,447.6 L733.0,443.5 L735.0,439.4 L737.0,435.2 L739.0,431.0 L741.0,426.7 L743.0,422.2 L745.0,417.7 L747.0,413.1 L749.0,408.4 L751.0,403.6 L753.0,398.7 L755.0,393.8 L757.0,388.9 L759.0,384.0 L761.0,378.9 L763.0,373.7 L765.0,368.2 L767.0,362.6 L769.0,356.8 L771.0,351.1 L773.0,345.6 L775.0,340.3 L777.0,335.3 L779.0,330.8 L781.0,326.8 L783.0,323.1 L785.0,319.8 L787.0,316.6 L789.0,313.6 L791.0,310.6 L793.0,307.5 L795.0,304.3 L797.0,300.9 L799.0,297.4 L801.0,293.6 L803.0,289.7 L805.0,285.6 L807.0,281.4 L809.0,277.0 L811.0,272.5 L813.0,267.9 L815.0,263.2 L817.0,258.3 L819.0,253.8 L821.0,250.3 L823.0,248.3 L825.0,247.5 L827.0,247.5 L829.0,247.9 L831.0,248.3 L833.0,248.5 L835.0,248.6 L837.0,248.8 L839.0,249.3 L841.0,249.9 L843.0,250.8 L845.0,252.0 L847.0,253.5 L849.0,255.2 L851.0,257.4 L853.0,259.8 L855.0,262.4 L857.0,265.0 L859.0,267.4 L861.0,269.5 L863.0,271.5 L865.0,273.6 L867.0,275.9 L869.0,278.5 L871.0,281.5 L873.0,285.2 L875.0,289.7 L877.0,295.0 L879.0,301.2 L881.0,307.9 L883.0,314.9 L885.0,321.9 L887.0,328.5 L889.0,334.8 L891.0,340.8 L893.0,346.8 L895.0,353.0 L897.0,359.4 L899.0,366.4 L901.0,373.9 L903.0,382.1 L905.0,390.9 L907.0,399.9 L909.0,408.9 L911.0,417.8 L913.0,426.3 L915.0,434.5 L917.0,442.5 L919.0,450.3 L921.0,458.1 L923.0,465.8 L925.0,473.6 L927.0,481.5 L929.0,489.6 L931.0,497.9 L933.0,506.3 L935.0,514.9 L937.0,523.6 L939.0,532.4 L941.0,541.2 L943.0,549.9 L945.0,558.5 L947.0,566.9 L949.0,575.1 L951.0,583.0 L953.0,590.3 L955.0,596.8 L957.0,602.3 L959.0,607.1 L961.0,611.7 L963.0,616.3 L965.0,621.2 L967.0,626.3 L969.0,631.4 L971.0,636.3 L973.0,641.1 L975.0,645.8 L977.0,650.5 L979.0,655.0 L981.0,659.6 L983.0,664.0 L985.0,668.4 L987.0,672.8 L989.0,677.1 L991.0,681.5 L993.0,685.8 L995.0,690.1 L997.0,694.4 L999.0,698.8 L1001.0,703.0 L1003.0,707.3 L1005.0,711.6 L1007.0,715.8 L1009.0,719.9 L1011.0,724.1 L1013.0,728.1 L1015.0,732.2 L1017.0,736.1 L1019.0,740.0 L1021.0,743.8 L1023.0,747.5 L1025.0,751.2 L1027.0,754.7 L1029.0,758.2 L1031.0,761.5 L1033.0,764.7 L1035.0,767.9 L1037.0,770.9 L1039.0,773.7 L1041.0,776.5 L1043.0,779.1 L1045.0,781.5 L1047.0,783.9 L1049.0,786.1 L1051.0,788.3 L1053.0,790.4 L1055.0,792.4 L1057.0,794.5 L1059.0,796.6 L1061.0,798.8 L1063.0,800.9 L1065.0,803.1 L1067.0,805.3 L1069.0,807.5 L1071.0,809.6 L1073.0,811.7 L1075.0,813.8 L1077.0,815.8 L1079.0,817.7 L1081.0,819.6 L1083.0,821.4 L1085.0,823.1 L1087.0,824.6 L1089.0,826.1 L1091.0,827.4 L1093.0,828.7 L1095.0,829.8 L1097.0,830.9 L1099.0,831.9 L1101.0,832.9 L1103.0,833.8 L1105.0,834.7 L1107.0,835.6 L1109.0,836.5 L1111.0,837.3 L1113.0,838.1 L1115.0,838.9 L1117.0,839.6 L1119.0,840.3 L1121.0,841.0 L1123.0,841.7 L1125.0,842.4 L1127.0,843.1 L1129.0,843.8 L1131.0,844.4 L1133.0,845.1 L1135.0,845.7 L1137.0,846.3 L1139.0,847.0 L1141.0,847.6 L1143.0,848.3 L1145.0,848.9 L1147.0,849.6 L1149.0,850.2 L1151.0,850.9 L1153.0,851.6 L1155.0,852.3 L1157.0,853.0 L1159.0,853.7 L1161.0,854.5 L1163.0,855.3 L1165.0,856.1 L1167.0,856.9 L1169.0,857.7 L1171.0,858.6 L1173.0,859.5 L1175.0,860.5 L1177.0,861.5 L1179.0,862.5 L1181.0,863.5 L1183.0,864.6 L1185.0,865.8 L1187.0,867.0 L1189.0,868.2 L1191.0,869.5 L1193.0,870.8 L1195.0,872.1 L1197.0,873.5 L1199.0,875.0 L1201.0,876.4 L1203.0,877.9 L1205.0,879.4 L1207.0,880.9 L1209.0,882.5 L1211.0,884.1 L1213.0,885.6 L1215.0,887.2 L1217.0,888.8 L1219.0,890.4 L1221.0,892.0 L1223.0,893.6 L1225.0,895.2 L1227.0,896.8 L1229.0,898.4 L1231.0,900.0 L1233.0,901.6 L1235.0,903.1 L1237.0,904.6 L1239.0,906.1 L1241.0,907.6 L1243.0,909.1 L1245.0,910.5 L1247.0,912.0 L1249.0,913.4 L1251.0,914.8 L1253.0,916.3 L1255.0,917.7 L1257.0,919.2 L1259.0,920.7 L1261.0,922.2 L1263.0,923.6 L1265.0,924.9 L1267.0,926.1 L1269.0,927.1 L1271.0,927.9 L1273.0,928.5 L1275.0,929.0 L1277.0,929.3 L1279.0,929.5 L1281.0,929.6 L1283.0,929.6 L1285.0,929.5 L1287.0,929.3 L1289.0,929.1 L1291.0,928.9 L1293.0,928.7 L1295.0,928.5 L1297.0,928.2 L1299.0,927.9 L1301.0,927.6 L1303.0,927.2 L1305.0,926.8 L1307.0,926.2 L1309.0,925.6 L1311.0,924.9 L1313.0,924.1 L1315.0,923.1 L1317.0,922.2 L1319.0,921.1 L1321.0,920.0 L1323.0,918.8 L1325.0,917.7 L1327.0,916.5 L1329.0,915.2 L1331.0,914.0 L1333.0,912.8 L1335.0,911.7 L1337.0,910.6 L1339.0,909.5 L1341.0,908.4 L1343.0,907.3 L1345.0,906.3 L1347.0,905.2 L1349.0,904.0 L1351.0,902.8 L1353.0,901.5 L1355.0,900.1 L1357.0,898.7 L1359.0,897.3 L1361.0,895.8 L1363.0,894.3 L1365.0,892.8 L1367.0,891.3 L1369.0,889.8 L1371.0,888.3 L1373.0,886.8 L1375.0,885.3 L1377.0,883.9 L1379.0,882.5 L1381.0,881.2 L1383.0,879.9 L1385.0,878.7 L1387.0,877.6 L1388.0,877.1" stroke="#008080"/>
<path d="M174.8,561.2 L177.0,560.7 L179.0,560.2 L181.0,559.8 L183.0,559.4 L185.0,559.0 L187.0,558.6 L189.0,558.3 L191.0,557.9 L193.0,557.6 L195.0,557.3 L197.0,557.1 L199.0,556.8 L201.0,556.6 L203.0,556.4 L205.0,556.2 L207.0,556.0 L209.0,555.8 L211.0,555.7 L213.0,555.5 L215.0,555.4 L217.0,555.3 L219.0,555.3 L221.0,555.2 L223.0,555.2 L225.0,555.1 L227.0,555.1 L229.0,555.1 L231.0,555.2 L233.0,555.2 L235.0,555.2 L237.0,555.3 L239.0,555.4 L241.0,555.5 L243.0,555.6 L245.0,555.8 L247.0,555.9 L249.0,556.1 L251.0,556.2 L253.0,556.4 L255.0,556.6 L257.0,556.9 L259.0,557.1 L261.0,557.3 L263.0,557.6 L265.0,557.9 L267.0,558.2 L269.0,558.5 L271.0,558.8 L273.0,559.1 L275.0,559.5 L277.0,559.8 L279.0,560.2 L281.0,560.6 L283.0,561.0 L285.0,561.4 L287.0,561.8 L289.0,562.2 L291.0,562.7 L293.0,563.1 L295.0,563.6 L297.0,564.1 L299.0,564.5 L301.0,565.0 L303.0,565.5 L305.0,566.1 L307.0,566.6 L309.0,567.1 L311.0,567.7 L313.0,568.3 L315.0,568.8 L317.0,569.4 L319.0,570.0 L321.0,570.6 L323.0,571.2 L325.0,571.8 L327.0,572.5 L329.0,573.1 L331.0,573.7 L333.0,574.4 L335.0,575.1 L337.0,575.7 L339.0,576.4 L341.0,577.1 L343.0,577.8 L345.0,578.5 L347.0,579.2 L349.0,579.9 L351.0,580.7 L353.0,581.4 L355.0,582.1 L357.0,582.9 L359.0,583.6 L361.0,584.4 L363.0,585.2 L365.0,585.9 L367.0,586.7 L369.0,587.5 L371.0,588.3 L373.0,589.1 L375.0,589.9 L377.0,590.7 L379.0,591.5 L381.0,592.3 L383.0,593.2 L385.0,594.0 L387.0,594.8 L389.0,595.7 L391.0,596.5 L393.0,597.3 L395.0,598.2 L397.0,599.1 L399.0,599.9 L401.0,600.8 L403.0,601.6 L405.0,602.5 L407.0,603.4 L409.0,604.3 L411.0,605.1 L413.0,606.0 L415.0,606.9 L417.0,607.8 L419.0,608.7 L421.0,609.6 L423.0,610.5 L425.0,611.4 L427.0,612.3 L429.0,613.2 L431.0,614.1 L433.0,615.0 L435.0,615.9 L437.0,616.8 L439.0,617.7 L441.0,618.6 L443.0,619.5 L445.0,620.5 L447.0,621.4 L449.0,622.3 L451.0,623.2 L453.0,624.1 L455.0,625.0 L457.0,626.0 L459.0,626.9 L461.0,627.8 L463.0,628.7 L465.0,629.6 L467.0,630.6 L469.0,631.5 L471.0,632.4 L473.0,633.3 L475.0,634.3 L477.0,635.2 L479.0,636.1 L481.0,637.0 L483.0,637.9 L485.0,638.8 L487.0,639.8 L489.0,640.7 L491.0,641.6 L493.0,642.5 L495.0,643.4 L497.0,644.3 L499.0,645.2 L501.0,646.1 L503.0,647.0 L505.0,647.9 L507.0,648.8 L509.0,649.7 L511.0,650.6 L513.0,651.5 L515.0,652.4 L517.0,653.3 L519.0,654.1 L521.0,655.0 L523.0,655.9 L525.0,656.8 L527.0,657.6 L529.0,658.5 L531.0,659.4 L533.0,660.2 L535.0,661.1 L537.0,661.9 L539.0,662.8 L541.0,663.6 L543.0,664.5 L545.0,665.3 L547.0,666.2 L549.0,667.0 L551.0,667.8 L553.0,668.7 L555.0,669.5 L557.0,670.3 L559.0,671.1 L561.0,671.9 L563.0,672.7 L565.0,673.5 L567.0,674.3 L569.0,675.1 L571.0,675.9 L573.0,676.7 L575.0,677.5 L577.0,678.3 L579.0,679.1 L581.0,679.8 L583.0,680.6 L585.0,681.4 L587.0,682.1 L589.0,682.9 L591.0,683.6 L593.0,684.4 L595.0,685.1 L597.0,685.9 L599.0,686.6 L601.0,687.3 L603.0,688.0 L605.0,688.8 L607.0,689.5 L609.0,690.2 L611.0,690.9 L613.0,691.6 L615.0,692.3 L617.0,693.0 L619.0,693.7 L621.0,694.3 L623.0,695.0 L625.0,695.7 L627.0,696.4 L629.0,697.0 L631.0,697.7 L633.0,698.3 L635.0,699.0 L637.0,699.6 L639.0,700.3 L641.0,700.9 L643.0,701.5 L645.0,702.1 L647.0,702.7 L649.0,703.4 L651.0,704.0 L653.0,704.6 L655.0,705.2 L657.0,705.8 L659.0,706.3 L661.0,706.9 L663.0,707.5 L665.0,708.1 L667.0,708.6 L669.0,709.2 L671.0,709.7 L673.0,710.3 L675.0,710.8 L677.0,711.4 L679.0,711.9 L681.0,712.5 L683.0,713.0 L685.0,713.5 L687.0,714.0 L689.0,714.5 L691.0,715.1 L693.0,715.6 L695.0,716.1 L697.0,716.5 L699.0,717.0 L701.0,717.5 L703.0,718.0 L705.0,718.5 L707.0,719.0 L709.0,719.4 L711.0,719.9 L713.0,720.3 L715.0,720.8 L717.0,721.2 L719.0,721.7 L721.0,722.1 L723.0,722.6 L725.0,723.0 L727.0,723.4 L729.0,723.9 L731.0,724.3 L733.0,724.7 L735.0,725.1 L737.0,725.5 L739.0,725.9 L741.0,726.3 L743.0,726.7 L745.0,727.1 L747.0,727.5 L749.0,727.9 L751.0,728.2 L753.0,728.6 L755.0,729.0 L757.0,729.3 L759.0,729.7 L761.0,730.1 L763.0,730.4 L765.0,730.8 L767.0,731.1 L769.0,731.4 L771.0,731.8 L773.0,732.1 L775.0,732.4 L777.0,732.8 L779.0,733.1 L781.0,733.4 L783.0,733.7 L785.0,734.0 L787.0,734.3 L789.0,734.6 L791.0,734.9 L793.0,735.2 L795.0,735.5 L797.0,735.8 L799.0,736.1 L801.0,736.3 L803.0,736.6 L805.0,736.9 L807.0,737.2 L809.0,737.4 L811.0,737.7 L813.0,737.9 L815.0,738.2 L817.0,738.4 L819.0,738.7 L821.0,738.9 L823.0,739.2 L825.0,739.4 L827.0,739.6 L829.0,739.9 L831.0,740.1 L833.0,740.3 L835.0,740.5 L837.0,740.7 L839.0,741.0 L841.0,741.2 L843.0,741.4 L845.0,741.6 L847.0,741.8 L849.0,742.0 L851.0,742.2 L853.0,742.3 L855.0,742.5 L857.0,742.7 L859.0,742.9 L861.0,743.1 L863.0,743.2 L865.0,743.4 L867.0,743.6 L869.0,743.7 L871.0,743.9 L873.0,744.0 L875.0,744.2 L877.0,744.4 L879.0,744.5 L881.0,744.6 L883.0,744.8 L885.0,744.9 L887.0,745.1 L889.0,745.2 L891.0,745.3 L893.0,745.4 L895.0,745.6 L897.0,745.7 L899.0,745.8 L901.0,745.9 L903.0,746.0 L905.0,746.1 L907.0,746.2 L909.0,746.4 L911.0,746.5 L913.0,746.6 L915.0,746.6 L917.0,746.7 L919.0,746.8 L921.0,746.9 L923.0,747.0 L925.0,747.1 L927.0,747.2 L929.0,747.2 L931.0,747.3 L933.0,747.4 L935.0,747.5 L937.0,747.5 L939.0,747.6 L941.0,747.6 L943.0,747.7 L945.0,747.8 L947.0,747.8 L949.0,747.9 L951.0,747.9 L953.0,748.0 L955.0,748.0 L957.0,748.0 L959.0,748.1 L961.0,748.1 L963.0,748.2 L965.0,748.2 L967.0,748.2 L969.0,748.3 L971.0,748.3 L973.0,748.3 L975.0,748.3 L977.0,748.3 L979.0,748.4 L981.0,748.4 L983.0,748.4 L985.0,748.4 L987.0,748.4 L989.0,748.4 L991.0,748.4 L993.0,748.4 L995.0,748.4 L997.0,748.4 L999.0,748.4 L1001.0,748.4 L1003.0,748.4 L1005.0,748.4 L1007.0,748.4 L1009.0,748.4 L1011.0,748.4 L1013.0,748.3 L1015.0,748.3 L1017.0,748.3 L1019.0,748.3 L1021.0,748.3 L1023.0,748.2 L1025.0,748.2 L1027.0,748.2 L1029.0,748.1 L1031.0,748.1 L1033.0,748.1 L1035.0,748.0 L1037.0,748.0 L1039.0,748.0 L1041.0,747.9 L1043.0,747.9 L1045.0,747.8 L1047.0,747.8 L1049.0,747.7 L1051.0,747.7 L1053.0,747.6 L1055.0,747.6 L1057.0,747.5 L1059.0,747.5 L1061.0,747.4 L1063.0,747.4 L1065.0,747.3 L1067.0,747.2 L1069.0,747.2 L1071.0,747.1 L1073.0,747.0 L1075.0,747.0 L1077.0,746.9 L1079.0,746.8 L1081.0,746.8 L1083.0,746.7 L1085.0,746.6 L1087.0,746.5 L1089.0,746.5 L1091.0,746.4 L1093.0,746.3 L1095.0,746.2 L1097.0,746.2 L1099.0,746.1 L1101.0,746.0 L1103.0,745.9 L1105.0,745.8 L1107.0,745.7 L1109.0,745.7 L1111.0,745.6 L1113.0,745.5 L1115.0,745.4 L1117.0,745.3 L1119.0,745.2 L1121.0,745.1 L1123.0,745.0 L1125.0,744.9 L1127.0,744.8 L1129.0,744.7 L1131.0,744.6 L1133.0,744.5 L1135.0,744.4 L1137.0,744.3 L1139.0,744.2 L1141.0,744.1 L1143.0,744.0 L1145.0,743.9 L1147.0,743.8 L1149.0,743.7 L1151.0,743.6 L1153.0,743.5 L1155.0,743.4 L1157.0,743.3 L1159.0,743.2 L1161.0,743.1 L1163.0,743.0 L1165.0,742.9 L1167.0,742.8 L1169.0,742.7 L1171.0,742.5 L1173.0,742.4 L1175.0,742.3 L1177.0,742.2 L1179.0,742.1 L1181.0,742.0 L1183.0,741.9 L1185.0,741.8 L1187.0,741.7 L1189.0,741.5 L1191.0,741.4 L1193.0,741.3 L1195.0,741.2 L1197.0,741.1 L1199.0,741.0 L1201.0,740.8 L1203.0,740.7 L1205.0,740.6 L1207.0,740.5 L1209.0,740.4 L1211.0,740.3 L1213.0,740.1 L1215.0,740.0 L1217.0,739.9 L1219.0,739.8 L1221.0,739.7 L1223.0,739.6 L1225.0,739.4 L1227.0,739.3 L1229.0,739.2 L1231.0,739.1 L1233.0,739.0 L1235.0,738.9 L1237.0,738.7 L1239.0,738.6 L1241.0,738.5 L1243.0,738.4 L1245.0,738.3 L1247.0,738.2 L1249.0,738.0 L1251.0,737.9 L1253.0,737.8 L1255.0,737.7 L1257.0,737.6 L1259.0,737.5 L1261.0,737.3 L1263.0,737.2 L1265.0,737.1 L1267.0,737.0 L1269.0,736.9 L1271.0,736.8 L1273.0,736.7 L1275.0,736.6 L1277.0,736.4 L1279.0,736.3 L1281.0,736.2 L1283.0,736.1 L1285.0,736.0 L1287.0,735.9 L1289.0,735.8 L1291.0,735.7 L1293.0,735.6 L1295.0,735.5 L1297.0,735.3 L1299.0,735.2 L1301.0,735.1 L1303.0,735.0 L1305.0,734.9 L1307.0,734.8 L1309.0,734.7 L1311.0,734.6 L1313.0,734.5 L1315.0,734.4 L1317.0,734.3 L1319.0,734.2 L1321.0,734.1 L1323.0,734.0 L1325.0,733.9 L1327.0,733.8 L1329.0,733.7 L1331.0,733.6 L1333.0,733.5 L1335.0,733.5 L1337.0,733.4 L1339.0,733.3 L1341.0,733.2 L1343.0,733.1 L1345.0,733.0 L1347.0,732.9 L1349.0,732.8 L1351.0,732.8 L1353.0,732.7 L1355.0,732.6 L1357.0,732.5 L1359.0,732.4 L1361.0,732.3 L1363.0,732.3 L1365.0,732.2 L1367.0,732.1 L1369.0,732.0 L1371.0,732.0 L1373.0,731.9 L1375.0,731.8 L1377.0,731.8 L1379.0,731.7 L1381.0,731.6 L1383.0,731.6 L1385.0,731.5 L1387.0,731.4 L1388.0,731.4" stroke="#ff0aea"/>
</g>
<g font-family='"Liberation Sans", sans-serif'>
<text transform="translate(128.67,1053.30) scale(0.9256,1)" font-size="59.30" font-weight="bold" fill="#000">400</text>
<text transform="translate(429.85,1053.30) scale(0.9600,1)" font-size="59.30" font-weight="bold" fill="#000">500</text>
<text transform="translate(733.26,1053.30) scale(0.9403,1)" font-size="59.30" font-weight="bold" fill="#000">600</text>
<text transform="translate(1035.48,1053.60) scale(0.9504,1)" font-size="59.30" font-weight="bold" fill="#000">700</text>
<text transform="translate(1338.22,1053.60) scale(0.9437,1)" font-size="59.30" font-weight="bold" fill="#000">800</text>
<polygon fill="#000" points="106.3,176.8 112.9,176.8 112.9,218.6 106.3,218.6 106.3,189.1 97.0,191.6 97.0,186.6"/>
<rect x="125.1" y="213.7" width="8.7" height="4.9" fill="#000"/>
<text transform="translate(137.47,218.30) scale(0.9965,1)" font-size="59.70" font-weight="bold" fill="#000">5</text>
<polygon fill="#000" points="106.3,382.3 112.9,382.3 112.9,424.1 106.3,424.1 106.3,394.6 97.0,397.1 97.0,392.1"/>
<rect x="125.1" y="419.2" width="8.7" height="4.9" fill="#000"/>
<text transform="translate(137.17,423.80) scale(1.0368,1)" font-size="59.30" font-weight="bold" fill="#000">2</text>
<text transform="translate(90.16,628.30) scale(0.9603,1)" font-size="58.90" font-weight="bold" fill="#000">0</text>
<rect x="125.1" y="623.7" width="8.7" height="4.9" fill="#000"/>
<text transform="translate(137.18,628.30) scale(1.0375,1)" font-size="58.90" font-weight="bold" fill="#000">9</text>
<text transform="translate(90.16,833.20) scale(0.9603,1)" font-size="58.90" font-weight="bold" fill="#000">0</text>
<rect x="125.1" y="828.6" width="8.7" height="4.9" fill="#000"/>
<text transform="translate(137.06,833.20) scale(1.0396,1)" font-size="58.90" font-weight="bold" fill="#000">6</text>
<text transform="translate(573.55,1122.80) scale(0.8561,1)" font-size="60.60" font-weight="bold" fill="#000">Wavelength (nm)</text>
<text transform="translate(82.80,805.01) rotate(-90) scale(0.8728,1)" font-size="62.50" font-weight="bold" fill="#000">The radiated power</text>
<line x1="929.8" y1="79.5" x2="1043.4" y2="79.5" stroke="#000000" stroke-width="7.0"/>
<text transform="translate(1038.92,95.50) scale(0.9237,1)" font-size="52.50" font-weight="normal" fill="#000">ERP(SiO</text>
<text transform="translate(1234.39,114.30) scale(1.2907,1)" font-size="23.30" font-weight="normal" fill="#000">2</text>
<text transform="translate(1256.30,95.50) scale(0.6466,1)" font-size="52.50" font-weight="normal" fill="#000">)</text>
<line x1="929.8" y1="158.0" x2="1043.0" y2="158.0" stroke="#ff0000" stroke-width="7.0"/>
<text transform="translate(1050.68,176.60) scale(0.9339,1)" font-size="52.50" font-weight="normal" fill="#000">ERP(SiO</text>
<text transform="translate(1247.88,197.00) scale(1.3849,1)" font-size="23.30" font-weight="normal" fill="#000">2</text>
<text transform="translate(1265.15,176.60) scale(0.9550,1)" font-size="52.50" font-weight="normal" fill="#000">+Al)</text>
<line x1="929.8" y1="240.0" x2="1043.0" y2="240.0" stroke="#0000dc" stroke-width="7.0"/>
<text transform="translate(1051.18,255.20) scale(0.9339,1)" font-size="52.50" font-weight="normal" fill="#000">ERP(SiO</text>
<text transform="translate(1248.45,275.00) scale(1.3189,1)" font-size="23.30" font-weight="normal" fill="#000">2</text>
<text transform="translate(1266.29,255.20) scale(0.9414,1)" font-size="52.50" font-weight="normal" fill="#000">+Ag)</text>
<line x1="929.8" y1="318.9" x2="1043.0" y2="318.9" stroke="#008080" stroke-width="7.0"/>
<text transform="translate(1050.98,336.00) scale(0.9339,1)" font-size="52.50" font-weight="normal" fill="#000">ERP(SiO</text>
<text transform="translate(1248.45,355.80) scale(1.3189,1)" font-size="23.30" font-weight="normal" fill="#000">2</text>
<text transform="translate(1266.29,336.00) scale(0.9414,1)" font-size="52.50" font-weight="normal" fill="#000">+Au)</text>
<line x1="929.8" y1="400.2" x2="1043.0" y2="400.2" stroke="#ff0aea" stroke-width="7.0"/>
<text transform="translate(1050.68,416.40) scale(0.9339,1)" font-size="52.50" font-weight="normal" fill="#000">ERP(SiO</text>
<text transform="translate(1247.88,436.20) scale(1.3849,1)" font-size="23.30" font-weight="normal" fill="#000">2</text>
<text transform="translate(1265.19,416.40) scale(0.9394,1)" font-size="52.50" font-weight="normal" fill="#000">+Cr)</text>
</g>
</svg></body></html>
